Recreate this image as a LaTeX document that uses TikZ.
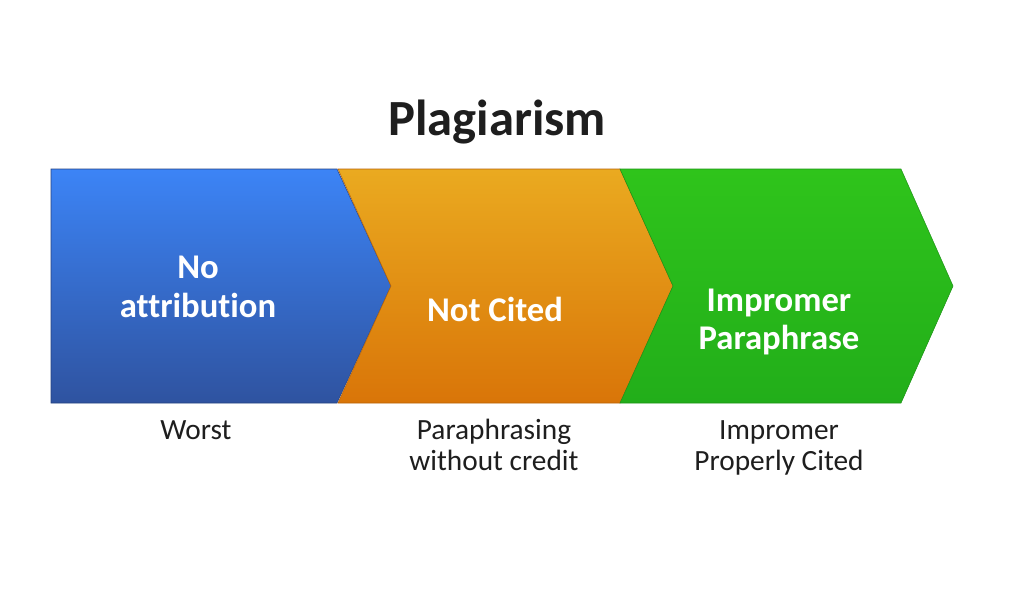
\documentclass[tikz,border=0pt]{standalone}
\usepackage{fontspec}
\setmainfont[Ligatures=NoCommon]{Carlito}
\definecolor{bluetop}{RGB}{60,132,246}
\definecolor{bluebot}{RGB}{47,83,160}
\definecolor{orgtop}{RGB}{234,170,32}
\definecolor{orgbot}{RGB}{217,117,8}
\definecolor{grntop}{RGB}{47,196,27}
\definecolor{grnbot}{RGB}{34,174,26}
\definecolor{txtdark}{RGB}{30,30,30}
\tikzset{
  inner/.style={text=white, font=\fontsize{26}{29}\selectfont\bfseries, align=center},
  sublabel/.style={text=txtdark, font=\fontsize{22}{23.5}\selectfont, align=center},
  titlestyle/.style={text=txtdark, font=\fontsize{38}{41}\selectfont\bfseries},
}
\begin{document}
\begin{tikzpicture}[x=0.75pt,y=-0.75pt]
\useasboundingbox (0,0) rectangle (1024,611);
\fill[white] (0,0) rectangle (1024,611);
% chevrons
\path[top color=bluetop, bottom color=bluebot, draw=bluebot!80!black, line width=0.4pt]
  (51,169) -- (337,169) -- (391,286) -- (337,403) -- (51,403) -- cycle;
\path[top color=orgtop, bottom color=orgbot, draw=orgbot!85!black, line width=0.4pt]
  (338,169) -- (620,169) -- (673,286) -- (620,403) -- (338,403) -- (391,286) -- cycle;
\path[top color=grntop, bottom color=grnbot, draw=grnbot!85!black, line width=0.4pt]
  (620,169) -- (901,169) -- (953,286) -- (901,403) -- (620,403) -- (673,286) -- cycle;
% title
\node[titlestyle] (title) at (497,122) {Plagiarism};
% inner texts
\node[inner] (blueText) at (198,287) {No\\attribution};
\node[inner] (orangeText) at (495,309) {Not Cited};
\node[inner] (greenText) at (779,322) {Impromer\\Paraphrase};
% sub labels
\node[sublabel, anchor=north] (worst) at (196,414) {\vphantom{h}Worst};
\node[sublabel, anchor=north] (para) at (494,414) {\vphantom{h}Paraphrasing\\without credit};
\node[sublabel, anchor=north] (proper) at (779,414) {\vphantom{h}Impromer\\Properly Cited};
\end{tikzpicture}
\end{document}
